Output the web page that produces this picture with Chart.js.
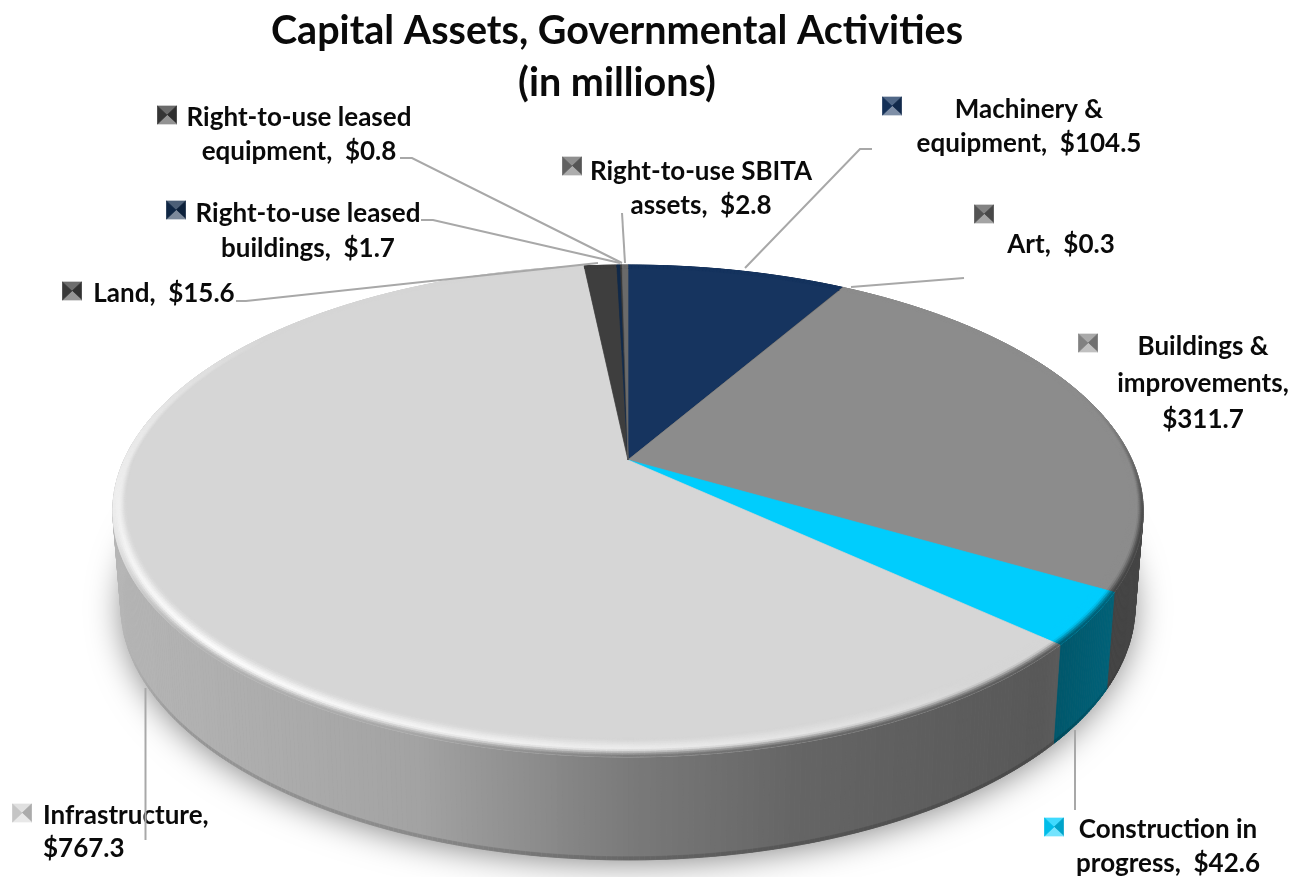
<!DOCTYPE html>
<html>
<head>
<meta charset="utf-8">
<title>Capital Assets, Governmental Activities</title>
<script src="https://cdn.jsdelivr.net/npm/chart.js@4/dist/chart.umd.js"></script>
<style>
  html, body { margin: 0; background: #fff; }
  canvas { display: block; }
</style>
</head>
<body>
<canvas id="pie" width="1295" height="877"></canvas>
<script>
const TITLE = ['Capital Assets, Governmental Activities', '(in millions)']

// clockwise from 12 o'clock; \n marks where the label wraps
const categories = [
  'Machinery &\nequipment', 'Art', 'Buildings &\nimprovements', 'Construction in\nprogress',
  'Infrastructure', 'Land', 'Right-to-use leased\nbuildings', 'Right-to-use leased\nequipment',
  'Right-to-use SBITA\nassets',
]
const values = [104.5, 0.3, 311.7, 42.6, 767.3, 15.6, 1.7, 0.8, 2.8]
const valueBreaks = ['  ', '  ', '\n', '  ', '\n', '  ', '  ', '  ', '  ']
const colors = ['#16345f', '#5a5a5a', '#8c8c8c', '#00cdfd', '#d6d6d6', '#3e3e3e', '#10294a', '#3a3a3a', '#6a6a6a']

// label placement: x of the centred text, y of each line's middle, key position
const labelX = [1029, 1061, 1203, 1168, 128, 164, 308, 299, 701]
const labelY = [[110, 144], [245], [347, 384, 420], [830, 864], [816, 849], [294], [214, 249], [118, 152], [172, 206]]
const keyPos = [[892, 106], [984, 214], [1088, 343], [1054, 827], [22, 813], [72, 291], [176, 210], [167, 115], [572, 166]]
const leaders = [
  [[872, 149], [860, 149], [745, 268]],
  [[964, 278], [851, 287]],
  [],
  [[1075, 810], [1075, 730]],
  [[145.5, 840], [145.5, 688]],
  [[236, 301], [246, 301], [598, 263]],
  [[421, 220], [433, 220], [620, 263]],
  [[400, 158], [412, 158], [622, 263]],
  [[622, 213], [625, 263]],
]

// perspective disc: centre of the pie on screen and the ellipse of the lower rim
const DISC = { cx: 628, y0: 460, R: 504, a: 140, c: -0.2073 }
const TOP_RIM = { rx: 515, cy: 511, ry: 246 }
const LOW_RIM = { rx: 507, cy: 605, ry: 255 }
const STEP = Math.PI / 360
const WALL_SHADE = [[112, 0.85], [420, 0.76], [628, 0.57], [800, 0.47], [1045, 0.41], [1143, 0.5]]
const LEADER = '#a8a8a8'
const INK = '#0a0a0a'

function project(theta, r, level) {
  const u = r * Math.sin(theta)
  const v = -r * Math.cos(theta)
  const d = 1 + DISC.c * v
  const x = DISC.cx + DISC.R * u / d
  const y = (DISC.y0 + DISC.a * v) / d
  if (!level) return [x, y]
  const lowX = DISC.cx + (x - DISC.cx) * LOW_RIM.rx / TOP_RIM.rx
  const lowY = LOW_RIM.cy + (y - TOP_RIM.cy) * LOW_RIM.ry / TOP_RIM.ry
  return [x + (lowX - x) * level, y + (lowY - y) * level]
}

function rgb(hex) {
  return [1, 3, 5].map((i) => parseInt(hex.slice(i, i + 2), 16))
}
function mix(a, b, t) {
  return a.map((v, i) => v + (b[i] - v) * t)
}
function css(c) {
  return `rgb(${c.map(Math.round).join(',')})`
}
function smooth(t) {
  const k = Math.min(1, Math.max(0, t))
  return k * k * (3 - 2 * k)
}

function wallShade(x) {
  for (let i = 1; i < WALL_SHADE.length; i++) {
    const [x0, s0] = WALL_SHADE[i - 1]
    const [x1, s1] = WALL_SHADE[i]
    if (x <= x1) return s0 + (s1 - s0) * Math.max(0, (x - x0) / (x1 - x0))
  }
  return WALL_SHADE[WALL_SHADE.length - 1][1]
}

function quad(ctx, pts, fill) {
  ctx.fillStyle = fill
  ctx.strokeStyle = fill
  ctx.lineWidth = 0.7
  ctx.beginPath()
  pts.forEach(([x, y], i) => (i ? ctx.lineTo(x, y) : ctx.moveTo(x, y)))
  ctx.closePath()
  ctx.fill()
  ctx.stroke()
}

function angleSteps(start, end) {
  const out = []
  const n = Math.max(1, Math.ceil((end - start) / STEP))
  for (let i = 0; i <= n; i++) out.push(start + (end - start) * i / n)
  return out
}

function drawShadow(ctx) {
  ctx.save()
  ctx.shadowColor = 'rgba(0,0,0,0.5)'
  ctx.shadowBlur = 34
  ctx.shadowOffsetY = 4
  ctx.fillStyle = '#888'
  ctx.beginPath()
  ctx.ellipse(DISC.cx, LOW_RIM.cy, LOW_RIM.rx - 2, LOW_RIM.ry - 2, 0, 0, Math.PI * 2)
  ctx.fill()
  ctx.restore()
}

function drawWall(ctx, start, end, base) {
  const angles = angleSteps(start, end)
  for (let i = 1; i < angles.length; i++) {
    const a = angles[i - 1]
    const b = angles[i]
    const t0 = project(a, 1, 0)
    const t1 = project(b, 1, 0)
    const shade = wallShade((t0[0] + t1[0]) / 2)
    quad(ctx, [t0, t1, project(b, 1, 1), project(a, 1, 1)], css(base.map((v) => v * shade)))
    // along the front the foot of the wall turns away and reads a little darker
    const facing = -Math.cos((a + b) / 2)
    if (facing > 0.3) {
      quad(ctx, [project(a, 1, 0.97), project(b, 1, 0.97), project(b, 1, 1), project(a, 1, 1)],
        css(base.map((v) => v * shade * (1 - 0.16 * smooth((facing - 0.3) / 0.4)))))
    }
  }
}

function drawFace(ctx, start, end, color) {
  const pts = [project(0, 0, 0)]
  angleSteps(start, end).forEach((a) => pts.push(project(a, 1, 0)))
  quad(ctx, pts, color)
}

function bevelWidth(theta) {
  return 0.02 + 0.03 * Math.max(0, -Math.cos(theta))
}

// rounded edge of the top face: a highlight on the lit side, falling into the wall colour in front
function drawBevel(ctx, start, end, base) {
  const rings = 10
  const angles = angleSteps(start, end)
  for (let i = 1; i < angles.length; i++) {
    const a = angles[i - 1]
    const b = angles[i]
    const mid = (a + b) / 2
    const deg = mid * 180 / Math.PI
    const width = bevelWidth(mid)
    const glow = Math.pow(Math.max(0, 1 - Math.abs(deg - 225) / 80), 0.7)
    const front = smooth((deg - 70) / 40) * (1 - smooth((deg - 225) / 40))
    const wall = base.map((v) => v * wallShade(project(mid, 1, 0)[0]))
    for (let k = 0; k < rings; k++) {
      const t = (k + 0.5) / rings
      const r0 = 1 - width * (1 - k / rings)
      const r1 = 1 - width * (1 - (k + 1) / rings)
      let c = mix(base, [255, 255, 255], glow * 0.95 * smooth(t / 0.6))
      c = mix(c, wall, front * smooth((t - 0.55) / 0.45))
      quad(ctx, [project(a, r0, 0), project(b, r0, 0), project(b, r1, 0), project(a, r1, 0)], css(c))
    }
  }
}

function drawKey(ctx, [x, y], hex) {
  const w = 9.5
  const h = 9
  const base = rgb(hex)
  const white = [255, 255, 255]
  const black = [0, 0, 0]
  const centre = [x, y]
  const corners = [[x - w, y - h], [x + w, y - h], [x + w, y + h], [x - w, y + h]]
  quad(ctx, [corners[0], corners[1], centre], css(mix(base, white, 0.25)))
  quad(ctx, [corners[1], corners[2], centre], css(mix(base, black, 0.2)))
  quad(ctx, [corners[2], corners[3], centre], css(mix(base, white, 0.45)))
  quad(ctx, [corners[3], corners[0], centre], css(mix(base, black, 0.08)))
}

const tiltedPie = {
  id: 'tiltedPie',
  beforeDatasetsDraw(chart) {
    const ctx = chart.ctx
    const arcs = chart.getDatasetMeta(0).data
      .map((arc) => ({
        start: arc.startAngle + Math.PI / 2,
        end: arc.endAngle + Math.PI / 2,
        color: arc.options.backgroundColor,
      }))
    ctx.save()
    drawShadow(ctx)
    arcs.forEach((s) => drawWall(ctx, s.start, s.end, rgb(s.color)))
    arcs.forEach((s) => drawFace(ctx, s.start, s.end, s.color))
    arcs.forEach((s) => drawBevel(ctx, s.start, s.end, rgb(s.color)))
    ctx.restore()
  },
  // the arcs are painted above in perspective, so the flat ones are skipped
  beforeDatasetDraw() {
    return false
  },
  afterDatasetsDraw(chart) {
    const ctx = chart.ctx
    ctx.save()
    ctx.font = 'bold 26px Lato, sans-serif'
    ctx.textBaseline = 'middle'
    categories.forEach((cat, i) => {
      const lines = `${cat},${valueBreaks[i]}$${values[i].toFixed(1)}`.split('\n')
      // Infrastructure sits flush left, the rest are centred
      ctx.textAlign = i === 4 ? 'left' : 'center'
      ctx.fillStyle = INK
      lines.forEach((line, k) => {
        ctx.fillText(line, i === 4 ? 43 : labelX[i], labelY[i][k])
      })
      drawKey(ctx, keyPos[i], colors[i])
    })
    ctx.strokeStyle = LEADER
    ctx.lineWidth = 2
    leaders.forEach((path) => {
      ctx.beginPath()
      path.forEach(([x, y], k) => (k ? ctx.lineTo(x, y) : ctx.moveTo(x, y)))
      ctx.stroke()
    })
    ctx.restore()
  },
}

new Chart(document.getElementById('pie'), {
  type: 'pie',
  data: {
    labels: categories.map((c) => c.replace('\n', ' ')),
    datasets: [{ data: values, backgroundColor: colors, borderWidth: 0 }],
  },
  options: {
    responsive: false,
    animation: false,
    layout: { padding: { right: 61, top: 5 } },
    plugins: {
      legend: { display: false },
      title: {
        display: true,
        text: TITLE,
        color: INK,
        font: { family: 'Lato, sans-serif', size: 39.5, weight: 'bold', lineHeight: 1.32 },
        padding: 0,
      },
    },
  },
  plugins: [tiltedPie],
})
</script>
</body>
</html>
